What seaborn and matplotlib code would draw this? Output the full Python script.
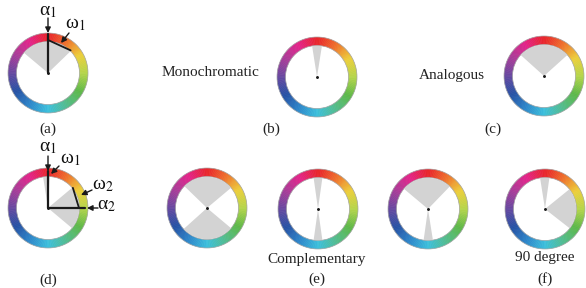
import numpy as np
import pandas as pd
import seaborn as sns
import matplotlib
matplotlib.use("Agg")
from matplotlib import pyplot as plt
from matplotlib.patches import Wedge, Circle

# hue ring colours, one every 30 degrees clockwise from the top (red)
hue_keys = ["#E8242A", "#EE6F2B", "#EDCF3A", "#B4D54A", "#5DB848", "#52BC8E",
            "#3BBFDC", "#2C86CA", "#2551A4", "#6548A0", "#A83C98", "#E3238A",
            "#E8242A"]

# grey template sectors, degrees clockwise from the top
sector_wheel = ["a", "b", "c", "d", "d", "e1", "e1", "e2", "e2", "e3", "e3", "f", "f"]
sector_start = [-50, -9, -48, -9, 50, -46, 130, -8, 172, -50, 171, -9, 51]
sector_end = [46, 9, 48, 3, 130, 50, 228, 8, 188, 44, 188, 8, 128]

sectors = pd.DataFrame({"wheel": sector_wheel, "start": sector_start, "end": sector_end})

# layout (pixels)
wheel_pos = {"a": (48, 73), "b": (317, 77), "c": (544, 76), "d": (48, 208),
             "e1": (207, 208), "e2": (318, 209), "e3": (428, 209), "f": (545, 209)}
R_OUT, R_IN = 40, 31.5

sns.set_theme(style="white")
plt.rcParams["font.family"] = ["Liberation Serif", "DejaVu Serif"]
plt.rcParams["mathtext.fontset"] = "stix"

fig = plt.figure(figsize=(5.86, 2.88), dpi=100)
ax = fig.add_axes([0, 0, 1, 1])
ax.set_xlim(0, 586)
ax.set_ylim(288, 0)
ax.set_aspect("equal")
ax.axis("off")

ring = sns.blend_palette(hue_keys, 361)


def pol(c, a, r):
    # point at angle a (clockwise from top) and radius r
    t = np.deg2rad(a)
    return c[0] + r * np.sin(t), c[1] - r * np.cos(t)


def draw_wheel(c):
    for k in range(360):
        ax.add_patch(Wedge(c, R_OUT, k - 90 - 0.4, k - 89 + 0.4, width=R_OUT - R_IN,
                           facecolor=ring[k], edgecolor="none"))
    for r in (R_OUT, R_IN):
        ax.add_patch(Circle(c, r, fill=False, edgecolor="#a8a8a8", lw=0.5))


for name, c in wheel_pos.items():
    draw_wheel(c)
    for _, s in sectors[sectors.wheel == name].iterrows():
        ax.add_patch(Wedge(c, R_IN - 0.3, s.start - 90, s.end - 90,
                           facecolor="#d3d3d3", edgecolor="none"))
    ax.plot(c[0], c[1], "o", ms=1.1, color="k")

# annotation lines on (a) and (d)
ca = wheel_pos["a"]
ax.plot(*zip(ca, pol(ca, 0, 39)), color="k", lw=1.6)
ax.plot(*zip(pol(ca, 0, 33), pol(ca, 45, 32)), color="k", lw=1.3)

cd = wheel_pos["d"]
ax.plot(*zip(pol(cd, 0, 37), cd, pol(cd, 90, 37)), color="k", lw=1.6)
ax.plot(*zip(pol(cd, 51, 32), pol(cd, 90, 31)), color="k", lw=1.3)

arr = dict(arrowstyle="-|>", color="k", lw=1.0, mutation_scale=8, shrinkA=0, shrinkB=0)
lab = dict(fontsize=14, ha="center", va="center", color="#111111")
ax.annotate("", xy=(48, 33), xytext=(48, 18), arrowprops=arr)
ax.text(48, 11, "α$_1$", **lab)
ax.annotate("", xy=(61, 43), xytext=(69, 33), arrowprops=arr)
ax.text(75, 24, "ω$_1$", **lab)

ax.annotate("", xy=(48, 171), xytext=(48, 156), arrowprops=arr)
ax.text(48, 147, "α$_1$", **lab)
ax.annotate("", xy=(51, 174), xytext=(59, 166), arrowprops=arr)
ax.text(70, 160, "ω$_1$", **lab)
ax.annotate("", xy=(81, 195), xytext=(92, 190), arrowprops=arr)
ax.text(103, 186, "ω$_2$", **lab)
ax.annotate("", xy=(87, 208), xytext=(98, 208), arrowprops=arr)
ax.text(107, 206, "α$_2$", **lab)

txt = dict(fontsize=11, ha="center", va="center", color="#222222")
ax.text(210, 73, "Monochromatic", **txt)
ax.text(452, 75, "Analogous", **txt)
ax.text(317, 259, "Complementary", **txt)
ax.text(545, 258, "90 degree", **txt)
for s, x, y in [("(a)", 48, 129), ("(b)", 271, 129), ("(c)", 493, 129),
                ("(d)", 48, 280), ("(e)", 317, 279), ("(f)", 545, 279)]:
    ax.text(x, y, s, **txt)

fig.savefig("out.png", dpi=100)
